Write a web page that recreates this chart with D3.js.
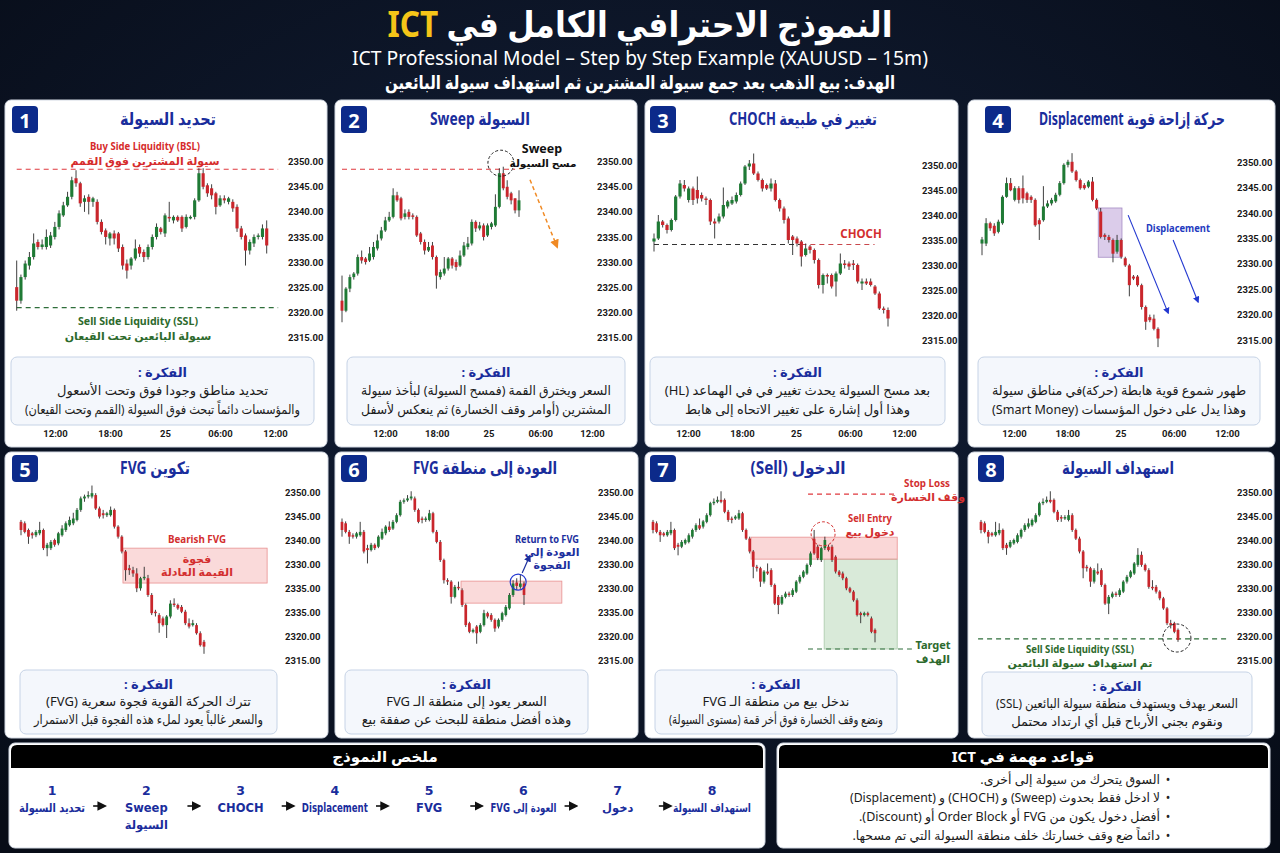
<!DOCTYPE html>
<html><head><meta charset="utf-8">
<script src="https://cdn.jsdelivr.net/npm/d3@7"></script>
<style>
body{margin:0;background:#0a1120;}
svg{display:block;font-family:"Noto Sans","DejaVu Sans",sans-serif;}
</style></head><body>
<svg id="c" width="1280" height="853"></svg>
<script>
// ---------------- DATA ----------------
const yTickValues = [2350,2345,2340,2335,2330,2325,2320,2315];
const tickLabelsStd = ["2350.00","2345.00","2340.00","2335.00","2330.00","2325.00","2320.00","2315.00"];
const tickLabelsP5 = ["2350.00","2345.00","2340.00","2330.00","2335.00","2335.00","2320.00","2315.00"];
const tickLabelsP6 = ["2350.00","2345.00","2340.00","2330.00","2330.00","2335.00","2320.00","2315.00"];
const tickLabelsP8 = ["2350.00","2345.00","2340.00","2330.00","2330.00","2330.00","2320.00","2315.00"];
const timeLabels = ["12:00","18:00","25","06:00","12:00"];

// each candle: [open, close, high, low]
const candles1 = [
[2325,2322.3,2330.3,2320.3],[2322.3,2327,2327.5,2321.7],[2327,2329.7,2330.3,2326.5],[2329.3,2331,2332,2328.5],
[2331,2333.7,2335.7,2330.5],[2334,2333,2334.5,2332.5],[2333,2333.5,2334.5,2332.5],[2333,2335,2336.5,2332.5],
[2333.3,2335.3,2336,2332.8],[2335,2337,2338,2334.5],[2337,2339.7,2340.3,2336.5],[2339.3,2341.3,2342,2339],
[2341.3,2343,2344,2341],[2343,2346.3,2347,2342.5],[2346.7,2345.7,2348.3,2345],[2345.7,2341.7,2346,2341],
[2342,2342.7,2343.3,2340],[2343,2342,2343.5,2339.5],[2342,2342.7,2343,2341],[2342,2338,2342.5,2337.5],
[2338,2336,2338.5,2335.5],[2336.3,2335,2336.7,2333.5],[2334.7,2335.7,2336,2333.3],[2335.7,2334.7,2336.3,2333.5],
[2335.7,2332.7,2336,2332],[2333,2329.3,2333.5,2328.5],[2329.7,2328.3,2330.5,2326.7],[2329.3,2330.7,2331,2328.5],
[2330.7,2332.7,2334.5,2330.3],[2333,2331.7,2333.5,2331],[2332,2331,2332.5,2330],[2331,2333,2333.5,2330.5],
[2333,2335,2335.5,2332.5],[2335,2337,2337.7,2334.5],[2336.7,2336,2337,2335.5],[2335.7,2339.3,2339.7,2335],
[2339,2338.7,2342,2338],[2338.3,2339,2339.3,2337.7],[2339,2338.3,2339.3,2338],[2339,2336.7,2339.3,2336],
[2337,2339,2339.5,2336.7],[2338.7,2339,2339.3,2338.5],[2339,2342.3,2342.7,2338.5],[2342.3,2347.7,2348.7,2342],
[2347.7,2345,2348.7,2344.5],[2345.3,2343.7,2345.7,2343],[2344.7,2343.3,2345.5,2342.5],[2343.7,2341,2344,2339.5],
[2341.3,2342.7,2343.3,2341],[2342.7,2342.3,2343.3,2341.7],[2342,2342.7,2343,2341.5],[2342,2340.7,2342.5,2340],
[2341,2336.7,2341.5,2336],[2336.7,2335,2337.2,2334.5],[2335.3,2332.3,2335.7,2329.3],[2332.3,2334,2334.5,2331.5],
[2333.7,2335,2335.5,2333],[2335,2335.3,2335.7,2334.5],[2335,2336.7,2337.5,2334.5],[2336.7,2333.3,2338.3,2331.7]
];
const candles2 = [
[2322.3,2320.3,2327.3,2318],[2320.3,2324.7,2325,2320],[2324.7,2327,2327.5,2324],[2327,2327.7,2328,2326.5],
[2327.7,2331,2331.5,2327.3],[2331,2330.3,2332.3,2329.7],[2330.7,2330,2331,2329.5],[2330.3,2331.7,2333,2330],
[2331,2333,2334,2330.5],[2332.7,2334.3,2335.5,2332.3],[2334.7,2336.3,2337,2334.3],[2336.3,2338.3,2339,2336],
[2338.3,2339,2340,2338],[2339,2343.3,2344.7,2338.7],[2343.3,2342.3,2344,2342],[2342.7,2338.7,2343,2338.3],
[2339,2339.7,2340.5,2338.5],[2340,2339,2340.5,2338.5],[2339.3,2339,2339.7,2338.5],[2339,2335.3,2339.3,2335],
[2335.7,2334,2336,2333.5],[2334,2332.3,2334.5,2331.5],[2332.3,2333,2334,2332],[2333.3,2331,2334,2330.5],
[2331,2327.3,2331.3,2324.7],[2327,2328,2328.5,2326.5],[2327.7,2328.7,2331,2327.3],[2328.7,2330.7,2331,2328.3],
[2330.7,2329.3,2331,2328.7],[2330,2329,2330.5,2328.3],[2329.3,2331.3,2332.3,2329],[2331.3,2333.3,2334,2331],
[2333,2333.7,2335,2332.5],[2333.7,2338,2338.5,2333.3],[2338,2336.7,2338.3,2336],[2336.7,2337.3,2338,2336.3],
[2337.3,2335,2337.7,2334.3],[2335.3,2337.3,2337.7,2335],[2337,2337.7,2338,2336.5],[2337.3,2341,2343.5,2337],
[2341,2347.7,2348.7,2340.7],[2347.7,2344.7,2349,2344.3],[2345,2343,2346.3,2342.5],[2343.7,2342.3,2344,2341.5],
[2342.7,2340.3,2342.7,2339.7],[2340.3,2342.3,2344.3,2339]
];
const candles3 = [
[2334.7,2335.3,2336.3,2332.7],[2335.3,2338.7,2340,2335],[2338.7,2338,2339,2337.5],[2338,2337,2338.3,2336.3],
[2337,2339,2339.3,2336.7],[2339,2343.7,2344,2338.7],[2343.7,2346.3,2347,2343.3],[2346,2345.3,2347,2344.7],
[2343,2345.3,2345.7,2342.5],[2345.3,2343,2345.7,2342],[2345,2343.3,2347.7,2342.3],[2344,2343.3,2344.5,2342.7],
[2343.3,2343,2343.7,2342],[2343,2338.7,2343.3,2338],[2338.7,2338.3,2339.3,2335.3],[2338.7,2339.7,2340.3,2338.3],
[2339.7,2342,2345.5,2339.3],[2341.7,2342.7,2343,2341.3],[2342.3,2343,2343.7,2342],[2342.7,2344,2344.5,2342.3],
[2344,2346.3,2346.7,2343.7],[2346.3,2349.7,2350,2346],[2349.7,2350.3,2351,2349],[2350.3,2348.3,2352.3,2348],
[2348.3,2347,2348.7,2346.7],[2347,2345.3,2347.3,2344.7],[2346,2345.3,2346.3,2345],[2345.3,2346.3,2347.3,2344.7],
[2346.3,2343,2347,2342.7],[2343,2341.3,2343.3,2340.7],[2341.3,2339,2341.7,2338.3],[2339.3,2335,2339.7,2334.3],
[2335.7,2335,2336,2332],[2335.3,2334.3,2335.7,2333.7],[2334.7,2331.7,2335,2329.7],[2332,2333.3,2334.3,2331.7],
[2333.7,2333,2334,2332.3],[2333,2331,2333.3,2330.3],[2331,2326,2331.3,2325.3],[2326,2328,2328.3,2324.3],
[2328,2327.7,2328.3,2326.3],[2328,2325.7,2328.3,2325.3],[2326.7,2328.3,2328.7,2323.7],[2328.3,2330.3,2332.3,2328],
[2330.3,2330,2331,2329.3],[2330.3,2329.7,2330.7,2329],[2330.3,2330,2331,2329],[2330,2326.7,2330.3,2326.3],
[2326.3,2326.7,2327.3,2325],[2326.7,2326.3,2327.3,2326],[2326.7,2326,2327.3,2325.7],[2325.7,2324.3,2326,2324],
[2324.3,2321.3,2324.7,2321],[2321.3,2321,2321.7,2320.3],[2321,2319.3,2321.5,2317.7]
];
const candles4 = [
[2334,2334.8,2335.3,2331.7],[2334,2338,2339,2333.5],[2338,2337,2338.3,2336.5],[2337.5,2336,2338,2335.5],
[2336.3,2338.3,2338.7,2336],[2338,2343.2,2343.5,2337.7],[2343.2,2345.9,2347,2343],[2345.9,2344.5,2346.9,2344.3],
[2342.6,2344.9,2345.3,2342.3],[2344.9,2342.6,2345.3,2341.9],[2344.9,2342.9,2347.4,2341.9],[2343.9,2342.6,2344.2,2342],
[2343.2,2342.6,2343.5,2342],[2342.6,2337.6,2342.9,2337.3],[2338.6,2337.8,2339,2334.7],[2338.6,2341.3,2345.3,2338.3],
[2341.3,2341.9,2342.5,2341],[2341.9,2342.6,2343,2341.5],[2342.3,2343.6,2344,2342],[2343.6,2345.9,2346.3,2343.3],
[2345.9,2349.5,2349.8,2345.6],[2349.5,2350.1,2350.5,2349],[2350.1,2348.2,2351.8,2347.9],[2348.2,2346.5,2348.5,2346.2],
[2346.5,2344.9,2346.8,2344.6],[2345.5,2344.9,2345.9,2344.6],[2345.2,2346.2,2346.5,2344.9],[2346.2,2342.6,2347.1,2342.3],
[2342.6,2340.9,2342.9,2340.6],[2340.3,2335.3,2341,2335],[2335.7,2335.3,2336,2334.7],[2335.3,2334.7,2335.7,2334.2],
[2334.7,2332,2335,2330.3],[2332.4,2334.7,2335.7,2332],[2334.7,2331.4,2335,2331],[2331.1,2329.7,2331.4,2329.4],
[2329.7,2325.8,2330,2323.6],[2327.5,2327.1,2327.8,2326.8],[2327.5,2325.8,2327.8,2325.5],[2325.8,2321.5,2326.1,2321],
[2321.5,2318.6,2321.8,2317],[2319.5,2318.9,2320,2318.5],[2319.2,2317.2,2320,2316.9],[2317.2,2315.3,2317.5,2313.6]
];
const candles5 = [
[2343.9,2342.2,2344.3,2341.1],[2343.6,2341.8,2344,2341.5],[2342.2,2340.8,2342.5,2339.3],[2341.5,2341.1,2341.8,2340.4],
[2341.1,2341.8,2342.2,2340.7],[2341.5,2342.2,2343.9,2341.1],[2342.2,2338.4,2342.5,2338],[2338.4,2339.1,2339.5,2336.7],
[2338.4,2339.7,2340.1,2338],[2340.1,2339.1,2340.4,2338.7],[2339.4,2341.5,2341.8,2339],[2341.1,2342.5,2343.2,2340.8],
[2342.2,2343.6,2344,2341.8],[2343.2,2344.3,2345,2342.9],[2343.6,2344.6,2345.8,2343.2],[2344.3,2346.4,2346.8,2344],
[2346.4,2348.8,2349.2,2346],[2348.8,2349.2,2349.6,2348.1],[2349.2,2349.5,2350.3,2348.8],[2349.2,2349.9,2351.5,2348.8],
[2349.5,2346.7,2349.9,2346.4],[2346.7,2345,2347.1,2344.6],[2345.7,2345.3,2346.4,2344.6],[2345.3,2345.7,2346,2344.9],
[2345.3,2346.4,2347.1,2345],[2346.4,2342.9,2346.7,2342.5],[2342.9,2340.8,2343.2,2340.4],[2340.8,2337.7,2341.1,2337.3],
[2337.7,2333.8,2338,2331.6],[2334.2,2333.8,2334.9,2332.8],[2333.8,2333.1,2334.5,2332.4],[2333.1,2330,2334.2,2329.2],
[2330,2332.1,2332.4,2329.5],[2332.1,2332.4,2334.5,2331.7],[2332.1,2328.6,2332.8,2328.2],[2328.6,2324.8,2329,2324.4],
[2325.1,2324.8,2325.5,2324.1],[2324.4,2322.7,2324.8,2320.7],[2323.7,2322.3,2324.1,2322],[2322.3,2324.1,2324.4,2319.6],
[2324.1,2326.8,2327.5,2323.7],[2326.8,2326.5,2327.9,2326.1],[2326.5,2325.8,2326.8,2325.5],[2326.1,2325.1,2326.5,2324.8],
[2325.1,2322.7,2325.5,2322.3],[2322.7,2322,2323.7,2321.6],[2322.3,2322.7,2323.4,2322],[2322.3,2320.6,2322.7,2320.3],
[2320.6,2318.1,2321,2317.8],[2318.8,2317.8,2319.2,2316.3]
];
const candles6 = [
[2343.9,2342.2,2344.6,2340.8],[2343.6,2341.8,2344,2341.5],[2341.8,2340.8,2342.2,2339.3],[2341.1,2340.8,2341.5,2340.4],
[2340.8,2341.5,2341.8,2340.4],[2341.1,2341.8,2343.9,2340.8],[2341.8,2337.7,2342.2,2337.3],[2338.4,2338,2339.1,2335.2],
[2338,2339.1,2339.5,2337.7],[2339.1,2338.4,2339.4,2338],[2338.7,2340.8,2341.1,2338.4],[2340.4,2341.8,2342.5,2340.1],
[2341.5,2342.9,2343.2,2341.1],[2342.9,2342.2,2344,2341.8],[2342.5,2343.9,2344.3,2342.2],[2343.9,2345.3,2345.7,2343.6],
[2345.3,2348.1,2348.5,2345],[2348.1,2348.4,2348.8,2347.7],[2348.4,2348.8,2349.5,2348.1],[2348.8,2349.2,2350.3,2348.4],
[2348.8,2346.4,2349.2,2346],[2346.4,2343.9,2346.7,2343.6],[2344.6,2344.3,2345,2343.6],[2344.3,2344.6,2345,2343.9],
[2344.3,2345.7,2346.4,2344],[2345.7,2341.8,2346,2341.5],[2341.8,2339.7,2342.2,2339.4],[2339.7,2335.9,2340.1,2335.5],
[2335.9,2331.7,2336.2,2331],[2331.7,2331.4,2332.1,2330.7],[2331.4,2328.2,2331.7,2326.8],[2328.2,2330.3,2330.7,2327.9],
[2330.3,2330,2331.4,2329.6],[2329.6,2326.5,2330,2326.1],[2326.5,2322.3,2326.8,2321.9],[2322.7,2320.9,2323,2320.6],
[2320.9,2321.3,2321.6,2320.6],[2322,2320.6,2322.3,2318.4],[2320.9,2322.3,2322.7,2320.6],[2322.3,2324.8,2325.5,2322],
[2324.8,2324.1,2325.1,2323.7],[2324.4,2323.4,2324.8,2323],[2323.4,2321.6,2323.7,2320.9],[2322,2323.4,2323.7,2321.6],
[2323.4,2324.8,2325.1,2323],[2324.4,2326.1,2326.5,2324.1],[2325.8,2328.6,2329,2325.5],[2328.6,2331,2331.7,2328.2],
[2331.2,2330.5,2332.1,2329.6],[2330.3,2331,2332.8,2329.9],[2331,2328.6,2331.4,2326.5]
];
const candles7 = [
[2343.9,2342.2,2344.3,2341.5],[2343.6,2341.8,2344,2341.5],[2341.8,2341.1,2342.2,2339.7],[2341.5,2341.1,2341.8,2340.8],
[2341.1,2341.8,2342.2,2340.8],[2341.5,2342.2,2343.9,2341.1],[2342.2,2338.4,2342.5,2338],[2339.1,2338.7,2339.5,2336.9],
[2338.7,2339.7,2340.1,2338.4],[2339.4,2340.1,2340.4,2339.1],[2339.7,2341.1,2341.5,2339.4],[2340.8,2342.2,2342.5,2340.4],
[2342.2,2343.2,2343.6,2341.8],[2343.2,2342.5,2344.6,2342.2],[2342.9,2344,2344.3,2342.5],[2343.9,2345.3,2345.7,2343.6],
[2345.3,2347.8,2348.1,2345],[2347.8,2348.1,2348.8,2347.4],[2348.1,2348.5,2349.2,2347.8],[2348.5,2348.1,2350.3,2347.8],
[2348.5,2346,2348.8,2345.7],[2346,2344.3,2346.4,2343.9],[2344.6,2344.3,2345,2343.6],[2344.6,2345,2345.3,2344.3],
[2344.6,2345.7,2346.4,2344.3],[2345.7,2342.2,2346,2341.8],[2342.2,2340.4,2342.5,2340.1],[2340.4,2337.7,2340.8,2337.3],
[2337.7,2334.5,2338,2332.1],[2334.5,2334.2,2334.9,2333.5],[2334.2,2331.4,2334.5,2330.3],[2331.4,2333.5,2333.8,2331],
[2333.5,2333.1,2335.2,2332.8],[2333.8,2330.7,2334.2,2330.3],[2330.7,2326.8,2331,2326.5],[2328.2,2326.5,2328.6,2324.6],
[2326.8,2328.2,2328.6,2326.5],[2328.2,2328.9,2329.3,2327.9],[2328.9,2328.6,2329.3,2328.2],[2328.6,2329.6,2330,2328.2],
[2329.3,2331.4,2331.7,2329],[2331.4,2332.4,2332.8,2331],[2332.4,2333.5,2333.8,2332.1],[2333.1,2334.9,2335.2,2332.8],
[2334.9,2337.3,2337.7,2334.5],[2340.4,2337.3,2342.2,2337],[2338.7,2336.3,2339.1,2335.9],[2335.9,2338.4,2338.7,2335.5],
[2338.4,2340.1,2340.8,2338],[2338.7,2338,2339.1,2337.7],[2338.7,2335.9,2339.1,2335.5],[2336.6,2333.5,2336.9,2333.1],
[2333.5,2332.8,2333.8,2332.4],[2333.1,2332.1,2333.5,2331.7],[2332.1,2330,2332.4,2329.6],[2330,2329.3,2330.3,2329],
[2329.3,2327.5,2329.6,2327.2],[2327.5,2324.4,2327.9,2324.1],[2324.8,2324.4,2325.1,2322.7],[2324.4,2324.8,2325.1,2324.1],
[2324.8,2324.4,2325.1,2324.1],[2323.7,2320.9,2324.1,2320.6],[2321.3,2320.6,2321.6,2318.7]
];
const candles8 = [
[2343.9,2342.2,2344.3,2341.5],[2343.6,2341.8,2344,2341.5],[2341.8,2340.8,2342.2,2339.4],[2341.5,2341.1,2341.8,2340.8],
[2341.1,2341.8,2343.9,2340.8],[2341.5,2342.2,2343.6,2341.1],[2342.2,2338.4,2342.5,2338],[2339.1,2338.4,2339.5,2337],
[2338.7,2339.7,2340.1,2338.4],[2339.4,2340.1,2340.4,2339.1],[2339.7,2341.1,2341.5,2339.4],[2340.8,2342.2,2342.5,2340.4],
[2342.2,2343.2,2343.6,2341.8],[2342.9,2343.6,2344.6,2342.5],[2343.2,2344.3,2344.6,2342.9],[2343.9,2345.3,2345.7,2343.6],
[2345.3,2347.8,2348.1,2345],[2347.8,2348.1,2348.8,2347.4],[2348.1,2348.5,2349.2,2347.8],[2348.5,2348.1,2350.3,2347.8],
[2348.5,2346,2348.8,2345.7],[2346,2344.3,2346.4,2343.9],[2344.9,2344.6,2345.3,2343.9],[2344.6,2344.9,2345.3,2344.3],
[2344.3,2345.3,2346.4,2344],[2345.3,2342.2,2345.7,2341.8],[2342.2,2340.4,2342.5,2340.1],[2340.4,2337.7,2340.8,2337.3],
[2337.7,2334.2,2338,2332.1],[2334.5,2334.2,2334.9,2333.5],[2334.2,2331.4,2334.5,2330.3],[2331.4,2333.8,2334.2,2331],
[2333.5,2333.1,2335.2,2332.8],[2333.8,2330.7,2334.2,2330.3],[2330.7,2326.8,2331,2326.5],[2326.8,2328.2,2328.6,2324.6],
[2328.2,2328.9,2329.3,2327.9],[2328.9,2328.6,2329.3,2328.2],[2328.6,2329.6,2330,2328.2],[2329.3,2331.4,2331.7,2329],
[2331.4,2332.4,2332.8,2331],[2332.4,2333.5,2333.8,2332.1],[2333.1,2335.2,2335.5,2332.8],[2334.9,2337,2338.4,2334.5],
[2337,2334.9,2337.7,2334.5],[2334.9,2333.8,2335.2,2333.5],[2333.8,2330.3,2334.2,2329.9],[2330.3,2330,2331.7,2329.6],
[2330.3,2329.3,2330.7,2328.9],[2329.3,2327.9,2329.6,2327.5],[2327.9,2325.8,2328.2,2325.5],[2325.8,2322.7,2326.1,2322.3],
[2322.7,2322.3,2323.4,2321.6],[2322.7,2320.9,2323,2320.6],[2321.3,2319.2,2321.6,2318.8]
];

// key price levels / zones
const bslLevel = 2348.5, sslLevel1 = 2320.9;
const sweepLevel = 2348.5, sweepPoint = [40.4, 2349.7];
const chochLevel = 2334.1;
const dispZone = [2341, 2331.3];
const fvgZone5 = [2338.4, 2331.1];
const fvgZone6 = [2331.5, 2326.9], returnPoint6 = [48.4, 2331.3];
const fvgZone7 = [2340.7, 2336.1], stopLoss7 = 2349.7, target7 = 2317.3, entryPoint7 = [47.5, 2341.4];
const sslLevel8 = 2319.4, sslHitPoint8 = [53.7, 2319.6];

// texts
const panelTitles = ["تحديد السيولة","السيولة Sweep","تغيير في طبيعة CHOCH","حركة إزاحة قوية Displacement","تكوين FVG","العودة إلى منطقة FVG","الدخول (Sell)","استهداف السيولة"];
const ideaTexts = [
 ["تحديد مناطق وجودا فوق وتحت الأسعول","والمؤسسات دائماً تبحث فوق السيولة (القمم وتحت القيعان)"],
 ["السعر ويخترق القمة (فمسح السيولة) لبأخذ سيولة","المشترين (أوامر وقف الخسارة) ثم ينعكس لأسفل"],
 ["بعد مسح السيولة يحدث تغيير في في الهماعد (HL)","وهذا أول إشارة على تغيير الاتحاه إلى هابط"],
 ["طهور شموع قوية هابطة (حركة)في مناطق سيولة","وهذا يدل على دخول المؤسسات (Smart Money)"],
 ["تترك الحركة القوية فجوة سعرية (FVG)","والسعر غالباً يعود لملء هذه الفجوة قبل الاستمرار"],
 ["السعر يعود إلى منطقة الـ FVG","وهذه أفضل منطقة للبحث عن صفقة بيع"],
 ["ندخل بيع من منطقة الـ FVG","ونضع وقف الخسارة فوق أخر قمة (مستوى السيولة)"],
 ["السعر يهدف ويستهدف منطقة سيولة البائعين (SSL)","ونقوم بجني الأرباح قبل أي ارتداد محتمل"]
];
const stepNumbers = ["1","2","3","4","5","6","7","8"];
const stepLabels = [["تحديد السيولة"],["Sweep","السيولة"],["CHOCH"],["Displacement"],["FVG"],["العودة إلى FVG"],["دخول"],["استهداف السيولة"]];
const rules = [
 "السوق يتحرك من سيولة إلى أخرى.",
 "لا ادخل فقط بحدوث (Sweep) و (CHOCH) و (Displacement)",
 "أفضل دخول يكون من FVG أو Order Block أو (Discount).",
 "دائماً ضع وقف خسارتك خلف منطقة السيولة التي تم مسحها."
];

// ---------------- DRAW ----------------
const svg = d3.select("#c");
const defs = svg.append("defs");
function marker(id, color){
  defs.append("marker").attr("id",id).attr("viewBox","0 0 10 10").attr("refX",8).attr("refY",5)
    .attr("markerWidth",6).attr("markerHeight",6).attr("orient","auto")
    .append("path").attr("d","M0,0L10,5L0,10z").attr("fill",color);
}
marker("arOrange","#f08a24"); marker("arBlue","#2338d0"); marker("arNavy","#1c2f9e"); marker("arBlack","#111");
const rg = defs.append("radialGradient").attr("id","bg").attr("cx","50%").attr("cy","40%").attr("r","75%");
rg.append("stop").attr("offset","0%").attr("stop-color","#13203a");
rg.append("stop").attr("offset","100%").attr("stop-color","#070c17");
svg.append("rect").attr("width",1280).attr("height",853).attr("fill","url(#bg)");

function txt(g, x, y, s, o){
  o = o || {};
  const t = g.append("text").attr("x",x).attr("y",y)
    .attr("text-anchor",o.anchor||"middle").attr("dominant-baseline","central")
    .attr("font-size",o.size||12).attr("font-weight",o.weight||"normal")
    .attr("fill",o.color||"#222").text(s);
  if (o.family) t.attr("font-family",o.family);
  if (o.rtl) t.attr("direction","rtl").style("unicode-bidi","embed");
  if (o.len) t.attr("textLength",o.len).attr("lengthAdjust","spacingAndGlyphs");
  if (o.max){ const L = t.node().getComputedTextLength(); if (L > o.max) t.attr("textLength",o.max).attr("lengthAdjust","spacingAndGlyphs"); }
  return t;
}

// header
const h1 = svg.append("text").attr("x",640).attr("y",23).attr("text-anchor","middle").attr("dominant-baseline","central")
  .attr("direction","rtl").style("unicode-bidi","embed").attr("font-size",35).attr("font-weight","bold").attr("fill","#ffffff")
  .attr("textLength",505).attr("lengthAdjust","spacingAndGlyphs");
h1.append("tspan").text("النموذج الاحترافي الكامل في ");
h1.append("tspan").attr("fill","#f5c518").text("ICT");
txt(svg,640,57,"ICT Professional Model – Step by Step Example (XAUUSD – 15m)",{size:19.5,color:"#fff",len:576});
txt(svg,640,82,"الهدف: بيع الذهب بعد جمع سيولة المشترين ثم استهداف سيولة البائعين",{size:18,color:"#fff",weight:"bold",rtl:true,len:510});

const panels = [
 {box:[5,100,327,447],badge:[12,106],title:[168,118],tw:96,xr:[16.7,266.7],yr:[337.3,161.7],tickX:288,ticks:tickLabelsStd,timeR:[55,275],idea:[11,357,314,425],data:candles1},
 {box:[335,100,637,447],badge:[341,106],title:[480,118],tw:100,xr:[342,519],yr:[337.3,161.7],tickX:597,ticks:tickLabelsStd,timeR:[385,592],idea:[347,357,625,425],data:candles2},
 {box:[645,100,958,447],badge:[650,106],title:[803,118],tw:148,xr:[654,888],yr:[340,165],tickX:922,ticks:tickLabelsStd,timeR:[688,904],idea:[650,357,945,425],data:candles3},
 {box:[968,100,1275,447],badge:[985,106],title:[1132,118],tw:186,xr:[982,1158],yr:[340,162.3],tickX:1237,ticks:tickLabelsStd,timeR:[1014,1227],idea:[978,357,1260,425],data:candles4},
 {box:[5,452,328,738],badge:[12,455],title:[155,467],tw:70,xr:[21,204],yr:[660,492.7],tickX:285,ticks:tickLabelsP5,idea:[20,670,277,734],data:candles5},
 {box:[335,452,638,738],badge:[341,455],title:[485,467],tw:144,xr:[342,524],yr:[660,492.7],tickX:598,ticks:tickLabelsP6,idea:[345,670,588,734],data:candles6},
 {box:[645,452,958,738],badge:[650,455],title:[798,467],tw:95,xr:[653,875],yr:[660,492.7],tickX:null,ticks:null,idea:[655,670,897,734],data:candles7},
 {box:[968,452,1274,738],badge:[978,455],title:[1118,467],tw:112,xr:[981,1178],yr:[660,492.7],tickX:1237,ticks:tickLabelsP8,idea:[982,672,1252,736],data:candles8}
];

const GREEN="#1f7a35", RED="#c9262c", WICK="#2a2a2a";
const ctx = [];
panels.forEach((p,k)=>{
  const g = svg.append("g");
  g.append("rect").attr("x",p.box[0]).attr("y",p.box[1]).attr("width",p.box[2]-p.box[0]).attr("height",p.box[3]-p.box[1])
    .attr("rx",6).attr("fill","#ffffff").attr("stroke","#d3d9e3");
  g.append("rect").attr("x",p.badge[0]).attr("y",p.badge[1]).attr("width",26).attr("height",27).attr("rx",4).attr("fill","#0c2a8a");
  txt(g,p.badge[0]+13,p.badge[1]+14,String(k+1),{size:20,weight:"bold",color:"#fff"});
  txt(g,p.title[0],p.title[1],panelTitles[k],{size:17,weight:"bold",color:"#1a2d9c",rtl:true,len:p.tw});
  const x = d3.scaleLinear().domain([0,p.data.length-1]).range(p.xr);
  const y = d3.scaleLinear().domain([2315,2350]).range(p.yr);
  const under = g.append("g"), candles = g.append("g"), over = g.append("g");
  const step = (p.xr[1]-p.xr[0])/(p.data.length-1), bw = step*0.74;
  candles.selectAll("line").data(p.data).join("line")
    .attr("x1",(d,i)=>x(i)).attr("x2",(d,i)=>x(i)).attr("y1",d=>y(d[2])).attr("y2",d=>y(d[3]))
    .attr("stroke",WICK).attr("stroke-width",0.9);
  candles.selectAll("rect").data(p.data).join("rect")
    .attr("x",(d,i)=>x(i)-bw/2).attr("width",bw)
    .attr("y",d=>y(Math.max(d[0],d[1]))).attr("height",d=>Math.max(1,Math.abs(y(d[0])-y(d[1]))))
    .attr("fill",d=>d[1]>=d[0]?GREEN:RED);
  if (p.ticks){
    const ax = g.append("g").attr("transform",`translate(${p.tickX},0)`)
      .call(d3.axisRight(y).tickValues(yTickValues).tickSize(0).tickPadding(0).tickFormat((d,i)=>p.ticks[i]));
    ax.select(".domain").remove();
    ax.selectAll("text").attr("font-size",9.5).attr("font-weight","bold").attr("fill","#1a1a1a").attr("font-family","Roboto, 'Noto Sans', sans-serif");
  }
  if (p.timeR){
    const tx = d3.scalePoint().domain(d3.range(timeLabels.length)).range(p.timeR);
    const ax = g.append("g").attr("transform",`translate(0,430)`)
      .call(d3.axisBottom(tx).tickSize(0).tickPadding(0).tickFormat(i=>timeLabels[i]));
    ax.select(".domain").remove();
    ax.selectAll("text").attr("font-size",9.5).attr("font-weight","bold").attr("fill","#1a1a1a").attr("font-family","Roboto, 'Noto Sans', sans-serif");
  }
  const b = p.idea;
  g.append("rect").attr("x",b[0]).attr("y",b[1]).attr("width",b[2]-b[0]).attr("height",b[3]-b[1]).attr("rx",6)
    .attr("fill","#f4f7fc").attr("stroke","#c6d3e6");
  const cx = (b[0]+b[2])/2, hgt = b[3]-b[1], maxW = b[2]-b[0]-28;
  txt(g,cx,b[1]+hgt*0.22,"الفكرة :",{size:13,weight:"bold",color:"#1a2d9c",rtl:true});
  txt(g,cx,b[1]+hgt*0.48,ideaTexts[k][0],{size:13,color:"#1b1b1b",rtl:true,max:maxW});
  txt(g,cx,b[1]+hgt*0.76,ideaTexts[k][1],{size:13,color:"#1b1b1b",rtl:true,max:maxW});
  ctx.push({g,x,y,under,over});
});

function hline(g,x,y,i0,i1,lvl,color,dash){
  g.append("line").attr("x1",x(i0)).attr("x2",x(i1)).attr("y1",y(lvl)).attr("y2",y(lvl))
    .attr("stroke",color).attr("stroke-width",1.2).attr("stroke-dasharray",dash||"5,4");
}
function zone(g,x,y,i0,i1,z,fill,stroke,op){
  g.append("rect").attr("x",x(i0)).attr("width",x(i1)-x(i0)).attr("y",y(z[0])).attr("height",y(z[1])-y(z[0]))
    .attr("fill",fill).attr("fill-opacity",op).attr("stroke",stroke).attr("stroke-width",0.8);
}
function arrow(g,x,y,a,b,color,mk,dash,w){
  g.append("line").attr("x1",x(a[0])).attr("y1",y(a[1])).attr("x2",x(b[0])).attr("y2",y(b[1]))
    .attr("stroke",color).attr("stroke-width",w||1.2).attr("stroke-dasharray",dash||null).attr("marker-end",`url(#${mk})`);
}
const AN = {size:11,weight:"bold"};

// Panel 1
{ const {x,y,under,over} = ctx[0];
  hline(under,x,y,0,61.7,bslLevel,"#e0393e");
  hline(under,x,y,0,61.7,sslLevel1,"#2e6e3a");
  txt(over,145,145,"Buy Side Liquidity (BSL)",{...AN,color:"#d62b2b",len:110});
  txt(over,145,160,"سيولة المشترين فوق القمم",{...AN,color:"#d62b2b",rtl:true});
  txt(over,138,320,"Sell Side Liquidity (SSL)",{...AN,color:"#2d6a2d",len:120});
  txt(over,138,335,"سيولة البائعين تحت القيعان",{...AN,color:"#2d6a2d",rtl:true});
}
// Panel 2
{ const {x,y,under,over} = ctx[1];
  hline(under,x,y,0,44,sweepLevel,"#e0393e");
  over.append("circle").attr("cx",x(sweepPoint[0])).attr("cy",y(sweepPoint[1])).attr("r",13)
    .attr("fill","none").attr("stroke","#222").attr("stroke-dasharray","3,2");
  txt(over,542,148,"Sweep",{size:12.5,weight:"bold",color:"#111"});
  txt(over,543,163,"مسح السيولة",{size:10.5,weight:"bold",color:"#111",rtl:true});
  arrow(over,x,y,[47.8,2346.4],[54.7,2333],"#f08a24","arOrange","4,3",1.5);
}
// Panel 3
{ const {x,y,under,over} = ctx[2];
  hline(under,x,y,0,34,chochLevel,"#333");
  hline(under,x,y,34,50.9,chochLevel,"#c8474c");
  txt(over,861,233,"CHOCH",{size:11.5,weight:"bold",color:"#d32f2f"});
}
// Panel 4
{ const {x,y,under,over} = ctx[3];
  zone(under,x,y,28.4,34.2,dispZone,"#b89ad6","#a58cc4",0.5);
  arrow(over,x,y,[35.7,2339.6],[45.5,2320.3],"#2338d0","arBlue",null,1.1);
  arrow(over,x,y,[46.7,2334.7],[52.8,2322.5],"#2338d0","arBlue",null,1.1);
  txt(over,1178,227,"Displacement",{...AN,color:"#1f3bc0",len:64});
}
// Panel 5
{ const {x,y,under,over} = ctx[4];
  zone(under,x,y,27.3,65.9,fvgZone5,"#f6bcbc","#e89090",0.55);
  txt(over,197,538,"Bearish FVG",{...AN,color:"#d32f2f",len:58});
  txt(over,197,558,"فجوة",{...AN,color:"#d32f2f",rtl:true});
  txt(over,197,571,"القيمة العادلة",{...AN,color:"#d32f2f",rtl:true});
}
// Panel 6
{ const {x,y,under,over} = ctx[5];
  zone(under,x,y,32.7,60.4,fvgZone6,"#f6bcbc","#e89090",0.55);
  over.append("circle").attr("cx",x(returnPoint6[0])).attr("cy",y(returnPoint6[1])).attr("r",8)
    .attr("fill","none").attr("stroke","#2338d0").attr("stroke-width",1.2);
  arrow(over,x,y,[49.5,2333.2],[51.6,2336.8],"#1c2f9e","arNavy",null,1.2);
  txt(over,547,538,"Return to FVG",{...AN,color:"#1c2f9e",len:64});
  txt(over,552,551,"العودة إلى",{...AN,color:"#1c2f9e",rtl:true});
  txt(over,552,564,"الفجوة",{...AN,color:"#1c2f9e",rtl:true});
}
// Panel 7
{ const {x,y,under,over} = ctx[6];
  zone(under,x,y,47.8,68.2,[fvgZone7[1],target7],"#b9d8b9","#a9c9a9",0.55);
  zone(under,x,y,27.4,68.2,fvgZone7,"#f6bcbc","#e89090",0.6);
  hline(under,x,y,43.3,68.4,stopLoss7,"#e0393e");
  hline(under,x,y,43.3,72.3,target7,"#2e6e3a");
  over.append("circle").attr("cx",x(entryPoint7[0])).attr("cy",y(entryPoint7[1])).attr("r",12)
    .attr("fill","none").attr("stroke","#d32f2f").attr("stroke-dasharray","3,2");
  txt(over,927,482,"Stop Loss",{...AN,color:"#d32f2f",len:46});
  txt(over,928,496,"وقف الخسارة",{...AN,color:"#d32f2f",rtl:true});
  txt(over,870,517,"Sell Entry",{...AN,color:"#d32f2f",len:44});
  txt(over,870,531,"دخول بيع",{...AN,color:"#d32f2f",rtl:true});
  txt(over,933,644,"Target",{...AN,color:"#2d6a2d"});
  txt(over,933,658,"الهدف",{...AN,color:"#2d6a2d",rtl:true});
}
// Panel 8
{ const {x,y,under,over} = ctx[7];
  hline(under,x,y,-0.8,67.4,sslLevel8,"#2e6e3a");
  over.append("circle").attr("cx",x(sslHitPoint8[0])).attr("cy",y(sslHitPoint8[1])).attr("r",14)
    .attr("fill","none").attr("stroke","#222").attr("stroke-dasharray","3,2");
  txt(over,1080,648,"Sell Side Liquidity (SSL)",{...AN,color:"#2d6a2d",len:108});
  txt(over,1080,662,"تم استهداف سيولة البائعين",{...AN,color:"#2d6a2d",rtl:true});
}

// Summary box
{ const g = svg.append("g");
  g.append("rect").attr("x",9).attr("y",743).attr("width",756).attr("height",105).attr("rx",6).attr("fill","#fff").attr("stroke","#d3d9e3");
  g.append("path").attr("d","M11,768 V751 Q11,745 17,745 H757 Q763,745 763,751 V768 Z").attr("fill","#000");
  txt(g,385,756,"ملخص النموذج",{size:15,weight:"bold",color:"#fff",rtl:true});
  const sx = d3.scalePoint().domain(d3.range(stepNumbers.length)).range([52,712]);
  const NARROW = "'Liberation Sans Narrow','DejaVu Sans',sans-serif";
  stepNumbers.forEach((n,i)=>{
    txt(g,sx(i),790,n,{size:12.5,weight:"bold",color:"#1a2d9c",family:NARROW});
    stepLabels[i].forEach((l,j)=>txt(g,sx(i),808+j*17,l,{size:11.5,weight:"bold",color:"#1a2d9c",rtl:true,family:NARROW,max:i===7?78:66}));
    if (i<stepNumbers.length-1){
      const ax0 = (sx(i)+sx(i+1))/2 - 6, ax1 = (sx(i)+sx(i+1))/2 + 6;
      g.append("line").attr("x1",ax0).attr("x2",ax1).attr("y1",806).attr("y2",806)
        .attr("stroke","#111").attr("stroke-width",1.6).attr("marker-end","url(#arBlack)");
    }
  });
}
// Rules box
{ const g = svg.append("g");
  g.append("rect").attr("x",777).attr("y",743).attr("width",493).attr("height",105).attr("rx",6).attr("fill","#fff").attr("stroke","#d3d9e3");
  g.append("path").attr("d","M779,768 V751 Q779,745 785,745 H1262 Q1268,745 1268,751 V768 Z").attr("fill","#000");
  txt(g,1023,756,"قواعد مهمة في ICT",{size:15,weight:"bold",color:"#fff",rtl:true});
  const ry = d3.scalePoint().domain(d3.range(rules.length)).range([779,835]);
  rules.forEach((r,i)=>{
    txt(g,1168,ry(i),"•",{size:12,color:"#222"});
    txt(g,1160,ry(i),r,{size:12.5,color:"#1b1b1b",rtl:true,anchor:"start",max:310});
  });
}
</script>
</body></html>
